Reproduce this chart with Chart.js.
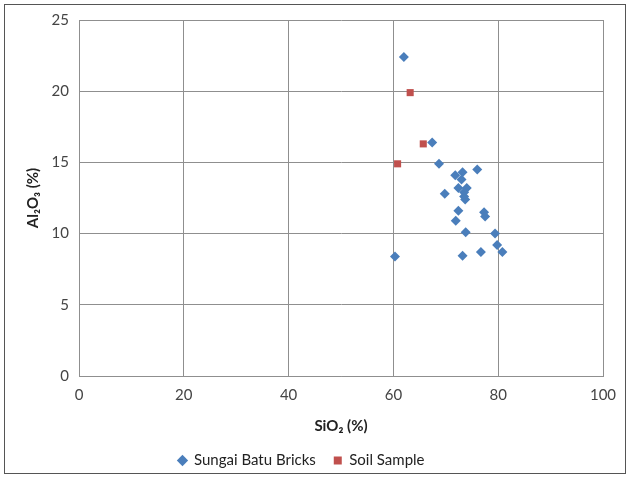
<!DOCTYPE html>
<html lang="en">
<head>
  <meta charset="UTF-8">
  <title>SiO2 vs Al2O3</title>
  <script src="https://cdn.jsdelivr.net/npm/chart.js"></script>
  <style>
    body { margin: 0; background: #fff; }
    #wrap { width: 631px; height: 479px; }
  </style>
</head>
<body>
  <div id="wrap"><canvas id="myChart" width="631" height="479"></canvas></div>

  <script>
    // SiO2 (%) / Al2O3 (%)
    const bricksSiO2 = [62.0, 67.4, 68.7, 71.8, 73.2, 73.0, 76.0, 72.4, 74.0, 73.5, 73.5, 73.7,
                        69.8, 72.4, 77.3, 77.5, 71.9, 73.8, 79.4, 79.8, 76.7, 80.8, 73.2, 60.3];
    const bricksAl2O3 = [22.4, 16.4, 14.9, 14.1, 14.3, 13.8, 14.5, 13.2, 13.2, 12.9, 12.6, 12.4,
                         12.8, 11.6, 11.5, 11.2, 10.9, 10.1, 10.0, 9.2, 8.7, 8.7, 8.45, 8.4];
    const soilSiO2 = [60.8, 63.2, 65.7];
    const soilAl2O3 = [14.9, 19.9, 16.3];

    const xTicks = [0, 20, 40, 60, 80, 100];
    const yTicks = [0, 5, 10, 15, 20, 25];

    const toPoints = (xs, ys) => xs.map((x, i) => ({ x: x, y: ys[i] }));

    const frame = {
      id: 'frame',
      beforeDraw(chart) {
        const c = chart.ctx;
        c.save();
        c.fillStyle = '#fff';
        c.fillRect(0, 0, chart.width, chart.height);
        c.strokeStyle = '#555';
        c.lineWidth = 1;
        c.strokeRect(4.5, 4.5, 621, 469);
        c.restore();
      }
    };

    const ctx = document.getElementById('myChart').getContext('2d');
    new Chart(ctx, {
      type: 'scatter',
      data: {
        datasets: [{
          label: 'Sungai Batu Bricks',
          data: toPoints(bricksSiO2, bricksAl2O3),
          pointStyle: 'rectRot',
          pointRadius: 5,
          backgroundColor: '#4a7ebb',
          borderColor: '#4a7ebb',
          borderWidth: 0
        }, {
          label: 'Soil Sample',
          data: toPoints(soilSiO2, soilAl2O3),
          pointStyle: 'rect',
          pointRadius: 5,
          backgroundColor: '#c0504d',
          borderColor: '#c0504d',
          borderWidth: 0
        }]
      },
      options: {
        responsive: false,
        animation: false,
        layout: { padding: { left: 0, right: 28, top: 20, bottom: 1 } },
        plugins: {
          legend: {
            position: 'bottom',
            labels: {
              usePointStyle: true,
              boxWidth: 8,
              boxHeight: 8,
              padding: 18,
              color: '#222',
              font: { family: 'Lato', size: 15 }
            }
          },
          tooltip: { enabled: false }
        },
        scales: {
          x: {
            type: 'linear',
            min: 0, max: 100,
            afterBuildTicks: s => { s.ticks = xTicks.map(v => ({ value: v })); },
            grid: { color: '#8f8f8f', drawTicks: false },
            border: { color: '#8f8f8f' },
            ticks: { color: '#444', padding: 10, font: { family: 'Lato', size: 15 } },
            title: { display: true, text: 'SiO₂ (%)', color: '#222', padding: { top: 3, bottom: 0 },
                     font: { family: 'Lato', size: 15, weight: 'bold' } }
          },
          y: {
            type: 'linear',
            min: 0, max: 25,
            afterBuildTicks: s => { s.ticks = yTicks.map(v => ({ value: v })); },
            afterFit: s => { s.width = 79; },
            grid: { color: '#8f8f8f', drawTicks: false },
            border: { color: '#8f8f8f' },
            ticks: { color: '#444', padding: 10, font: { family: 'Lato', size: 15 } },
            title: { display: true, text: 'Al₂O₃ (%)', color: '#222', padding: { top: 24, bottom: 0 },
                     font: { family: 'Lato', size: 15, weight: 'bold' } }
          }
        }
      },
      plugins: [frame]
    });
  </script>
</body>
</html>
